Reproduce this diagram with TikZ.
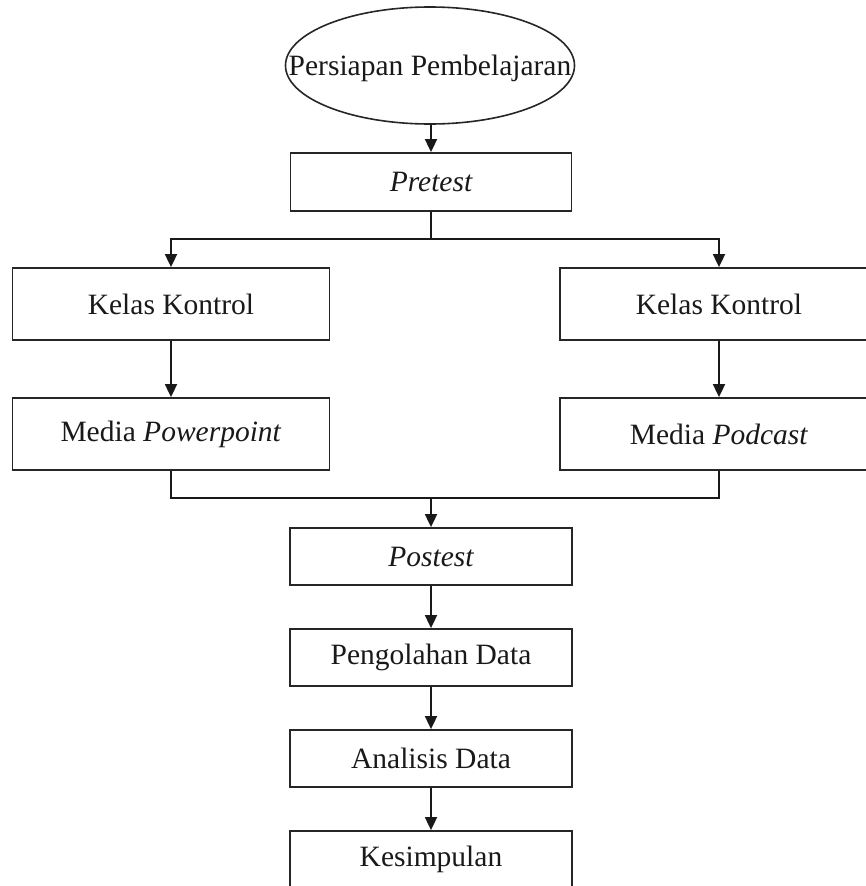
\documentclass[tikz,border=0pt]{standalone}
\usepackage{fontspec}
\setmainfont{Liberation Serif}
\usetikzlibrary{shapes.geometric,arrows.meta}
\begin{document}
\begin{tikzpicture}[x=1pt,y=1pt,
  every node/.style={font=\fontsize{29.5}{34}\selectfont, text=black!90},
  box/.style={draw=black!85, line width=1.8pt, rectangle, inner sep=0pt},
  oval/.style={draw=black!85, line width=1.6pt, ellipse, inner sep=0pt, minimum width=289, minimum height=117},
  arr/.style={draw=black!90, line width=1.8pt, -{Triangle[width=12pt,length=13pt]}},
  ln/.style={draw=black!90, line width=1.8pt}]
\clip (0,0) rectangle (866,-886);
\node[oval] (start) at (430,-65.5) {};
\node (startlabel) at (430,-68) {Persiapan Pembelajaran};
\node[box, minimum width=281, minimum height=58] (pre) at (431,-182) {\itshape Pretest};
\node[box, minimum width=317, minimum height=72] (kk1) at (171,-304) {Kelas Kontrol};
\node[box, minimum width=318, minimum height=72] (kk2) at (719,-304) {Kelas Kontrol};
\node[box, minimum width=317, minimum height=72] (m1) at (171,-434) {Media \textit{Powerpoint}};
\node[box, minimum width=318, minimum height=72] (m2) at (719,-434) {Media \textit{Podcast}};
\node[box, minimum width=282, minimum height=57] (post) at (431,-556.5) {\itshape Postest};
\node[box, minimum width=282, minimum height=57] (olah) at (431,-657.5) {Pengolahan Data};
\node[box, minimum width=282, minimum height=57] (anal) at (431,-758.5) {Analisis Data};
\node[box, minimum width=282, minimum height=57] (kes) at (431,-859.5) {Kesimpulan};
\coordinate (split) at (431,-239);
\coordinate (merge) at (431,-498);
\draw[arr] (start.south -| pre.north) -- (pre.north);
\draw[ln] (pre.south) -- (split);
\draw[arr] (split) -| (kk1.north);
\draw[arr] (split) -| (kk2.north);
\draw[arr] (kk1) -- (m1);
\draw[arr] (kk2) -- (m2);
\draw[ln] (m1.south) |- (merge);
\draw[ln] (m2.south) |- (merge);
\draw[arr] (merge) -- (post);
\draw[arr] (post) -- (olah);
\draw[arr] (olah) -- (anal);
\draw[arr] (anal) -- (kes);
\end{tikzpicture}
\end{document}
